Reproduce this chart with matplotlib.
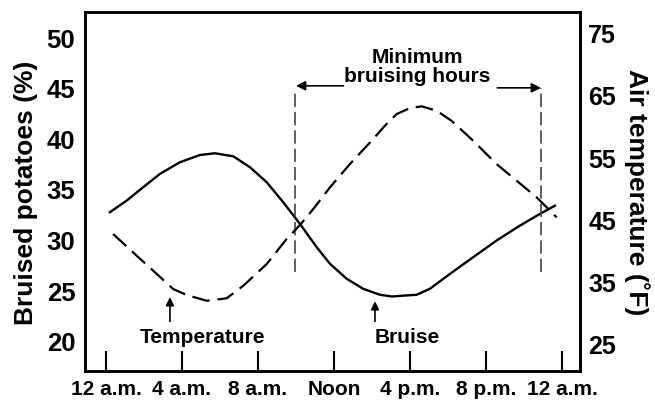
import numpy as np
import matplotlib.pyplot as plt

plt.rcParams['font.family'] = ['Liberation Sans', 'DejaVu Sans']
plt.rcParams['font.weight'] = 'bold'

# hours after midnight, bruised potatoes (%)
bruise_hours = [0.21, 1.09, 1.96, 2.84, 3.89, 4.95, 5.74, 6.70, 7.58, 8.46, 9.33,
                10.21, 11.09, 11.79, 12.67, 13.54, 14.42, 15.04, 16.35, 17.05,
                18.11, 19.33, 20.56, 21.79, 22.84, 23.63]
bruise_pct = [32.70, 33.85, 35.17, 36.49, 37.64, 38.36, 38.53, 38.23, 37.15, 35.67,
              33.69, 31.55, 29.25, 27.60, 26.12, 25.13, 24.54, 24.37, 24.54, 25.13,
              26.61, 28.26, 29.90, 31.38, 32.53, 33.35]

# hours after midnight, air temperature (F)
temp_hours = [0.38, 1.62, 2.49, 3.54, 4.25, 5.30, 6.35, 7.23, 8.46, 9.51, 10.21,
              10.91, 11.79, 12.84, 13.98, 14.68, 15.30, 16.0, 16.62, 17.41, 18.19,
              19.33, 20.56, 21.62, 22.67, 23.72]
temp_f = [42.65, 39.17, 36.76, 33.82, 32.86, 31.94, 32.33, 34.35, 37.83, 41.85, 44.09,
          46.66, 50.14, 53.88, 57.62, 60.03, 61.91, 62.87, 63.15, 62.44, 60.83,
          57.62, 53.88, 51.20, 48.54, 45.33]

x_ticks = [0, 4, 8, 12, 16, 20, 24]
x_labels = ["12 a.m.", "4 a.m.", "8 a.m.", "Noon", "4 p.m.", "8 p.m.", "12 a.m."]
left_ticks = [20, 25, 30, 35, 40, 45, 50]
right_ticks = [25, 35, 45, 55, 65, 75]

# window of minimum bruising (hours)
window_start, window_end = 9.95, 22.9

fig = plt.figure(figsize=(6.55, 4.02), dpi=100)
ax = fig.add_axes([0.1298, 0.0746, 0.7557, 0.8931])
ax2 = ax.twinx()

ax.plot(bruise_hours, bruise_pct, color='black', lw=1.7, solid_joinstyle='round')
ax2.plot(temp_hours, temp_f, color='black', lw=1.6, dashes=(8, 3.5))

ax.set_xlim(-1.1, 24.95)
ax.set_ylim(17.0, 52.5)
ax2.set_ylim(20.66, 78.3)

ax.set_xticks(x_ticks)
ax.set_xticklabels(x_labels, fontsize=15, fontweight='bold')
ax.set_yticks(left_ticks)
ax.set_yticklabels([str(v) for v in left_ticks], fontsize=18.5, fontweight='bold')
ax2.set_yticks(right_ticks)
ax2.set_yticklabels([str(v) for v in right_ticks], fontsize=18, fontweight='bold')

ax.tick_params(axis='x', direction='in', length=14.5, width=1.5, pad=6)
ax.tick_params(axis='y', length=0, pad=7)
ax2.tick_params(axis='y', length=0, pad=6)

for a in (ax, ax2):
    for s in a.spines.values():
        s.set_linewidth(1.9)

ax.set_ylabel("Bruised potatoes (%)", fontsize=19, fontweight='bold', labelpad=6)
ax2.set_ylabel("Air temperature (˚F)", fontsize=19, fontweight='bold',
               rotation=270, labelpad=24)

# window markers
for h, top in ((window_start, 44.6), (window_end, 45.0)):
    ax.plot([h, h], [26.8, top], color='#444444', lw=1.2, dashes=(8, 3))

ax.annotate("", xy=(window_start + 0.05, 45.2), xytext=(12.5, 45.2),
            arrowprops=dict(arrowstyle='-|>', color='black', lw=1.2,
                            mutation_scale=14, shrinkA=0, shrinkB=0))
ax.annotate("", xy=(window_end, 45.0), xytext=(20.6, 45.0),
            arrowprops=dict(arrowstyle='-|>', color='black', lw=1.2,
                            mutation_scale=14, shrinkA=0, shrinkB=0))
ax.text(16.4, 47.2, "Minimum\nbruising hours", ha='center', va='center',
        fontsize=15, fontweight='bold', linespacing=1.0)

# curve labels
ax.text(5.1, 20.4, "Temperature", ha='center', va='center', fontsize=15, fontweight='bold')
ax.annotate("", xy=(3.37, 24.3), xytext=(3.37, 21.9),
            arrowprops=dict(arrowstyle='-|>', color='black', lw=1.2,
                            mutation_scale=12, shrinkA=0, shrinkB=0))
ax.text(15.85, 20.4, "Bruise", ha='center', va='center', fontsize=15, fontweight='bold')
ax.annotate("", xy=(14.16, 23.9), xytext=(14.16, 21.9),
            arrowprops=dict(arrowstyle='-|>', color='black', lw=1.2,
                            mutation_scale=12, shrinkA=0, shrinkB=0))

fig.savefig("out.png", dpi=100)
